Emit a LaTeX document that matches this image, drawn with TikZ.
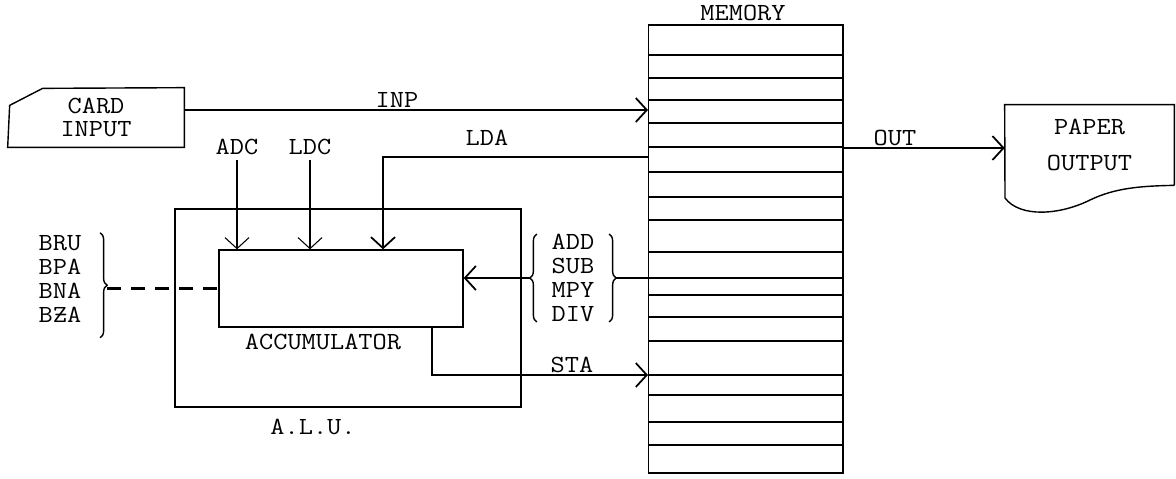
\documentclass[tikz,border=0pt]{standalone}
\usepackage{fontspec}
\setmonofont[FakeStretch=1.12]{Latin Modern Mono}
\usetikzlibrary{arrows.meta,decorations.pathreplacing}

\begin{document}
\begin{tikzpicture}[x=0.02cm,y=-0.02cm,
    >={Straight Barb[length=2.2mm,width=4.8mm]},
    lbl/.style={font=\ttfamily\fontsize{14}{13.6}\selectfont,inner sep=0pt},
    box/.style={draw,line width=0.8pt},
    conn/.style={line width=1pt},
    thinline/.style={line width=0.6pt},
    rowline/.style={line width=1.1pt},
    bracket/.style={decorate,decoration={brace,amplitude=0.14cm},line width=0.8pt}]
  \useasboundingbox (0,0) rectangle (1176,478);

  % input and output units
  \node[lbl,minimum width=3.52cm,minimum height=1.18cm,align=center] (card) at (96,117.5) {CARD\\INPUT};
  \draw[box] (card.south west) -- ++(2,-42) -- ++(33,-17) -- (card.north east) -- (card.south east) -- cycle;
  \node[lbl,minimum width=3.38cm,minimum height=1.6cm,align=center,font=\ttfamily\fontsize{14}{21}\selectfont] (paper) at (1089.5,145) {PAPER\\OUTPUT};
  \draw[box] (paper.south east) -- (paper.north east) -- (paper.north west) -- (1005,198)
    .. controls (1020,218) and (1060,215) .. (1090,200)
    .. controls (1115,188) and (1140,186) .. (paper.south east);

  % memory
  \node[draw,thinline,minimum width=3.9cm,minimum height=8.96cm] (mem) at (745.5,249) {};
  \node[lbl] (memlbl) at (743,13) {MEMORY};
  \foreach \y in {25,55,78,100,123,147,172,197,220,252,278,295,317,341,375,395,422,445,473}
    \draw[rowline] (mem.west |- 0,\y) -- (mem.east |- 0,\y);

  % arithmetic unit
  \node[box,minimum width=6.92cm,minimum height=3.96cm] (alu) at (348,308) {};
  \node[lbl] (alulbl) at (313,427) {A.L.U.};
  \node[box,minimum width=4.88cm,minimum height=1.54cm] (acc) at (341,288.5) {};
  \node[lbl] (acclbl) at (323,342) {ACCUMULATOR};

  % instruction labels
  \node[lbl] (inp) at (397,100) {INP};
  \node[lbl] (lda) at (487,138) {LDA};
  \node[lbl] (out) at (895,138) {OUT};
  \node[lbl] (sta) at (572,365) {STA};
  \node[lbl] (adc) at (237,147) {ADC};
  \node[lbl] (ldc) at (310,147) {LDC};
  \node[lbl,align=center,inner xsep=0.29cm] (ops) at (573,278) {ADD\\SUB\\MPY\\DIV};
  \node[lbl,align=center,inner xsep=0.37cm] (br) at (60,279) {BRU\\BPA\\BNA\\B\rlap{Z}\rlap{\kern0.5pt-}\phantom{Z}A};

  % data paths
  \coordinate (inpend) at (648,110);
  \draw[conn,->] (card.east |- inpend) -- (inpend);
  \coordinate (ldain) at (648,157);
  \coordinate (ldadrop) at (383,0);
  \draw[conn,->] (ldain) -| (ldadrop |- acc.north);
  \coordinate (outstart) at (843,148);
  \draw[conn,->] (outstart) -- (paper.west |- outstart);
  \draw[thinline,->] ([yshift=-0.1cm]adc.south) -- (adc.south |- acc.north);
  \draw[thinline,->] ([yshift=-0.1cm]ldc.south) -- (ldc.south |- acc.north);
  \draw[bracket] (ops.south west) -- (ops.north west);
  \draw[bracket] (ops.north east) -- (ops.south east);
  \draw[conn] (mem.west |- ops.east) -- ([xshift=0.14cm]ops.east);
  \draw[conn,->] ([xshift=-0.14cm]ops.west) -- (acc.east |- ops.west);
  \coordinate (stadrop) at (432,0);
  \coordinate (staend) at (648,375);
  \draw[conn,->] (acc.south -| stadrop) |- (staend);

  % branch group
  \draw[bracket] ([yshift=0.05cm]br.north east) -- ([yshift=-0.3cm]br.south east);
  \coordinate (brtip) at ([xshift=0.14cm]br.east);
  \draw[line width=1.2pt,dash pattern=on 0.28cm off 0.2cm] (brtip |- acc.west) -- (acc.west);
\end{tikzpicture}
\end{document}
